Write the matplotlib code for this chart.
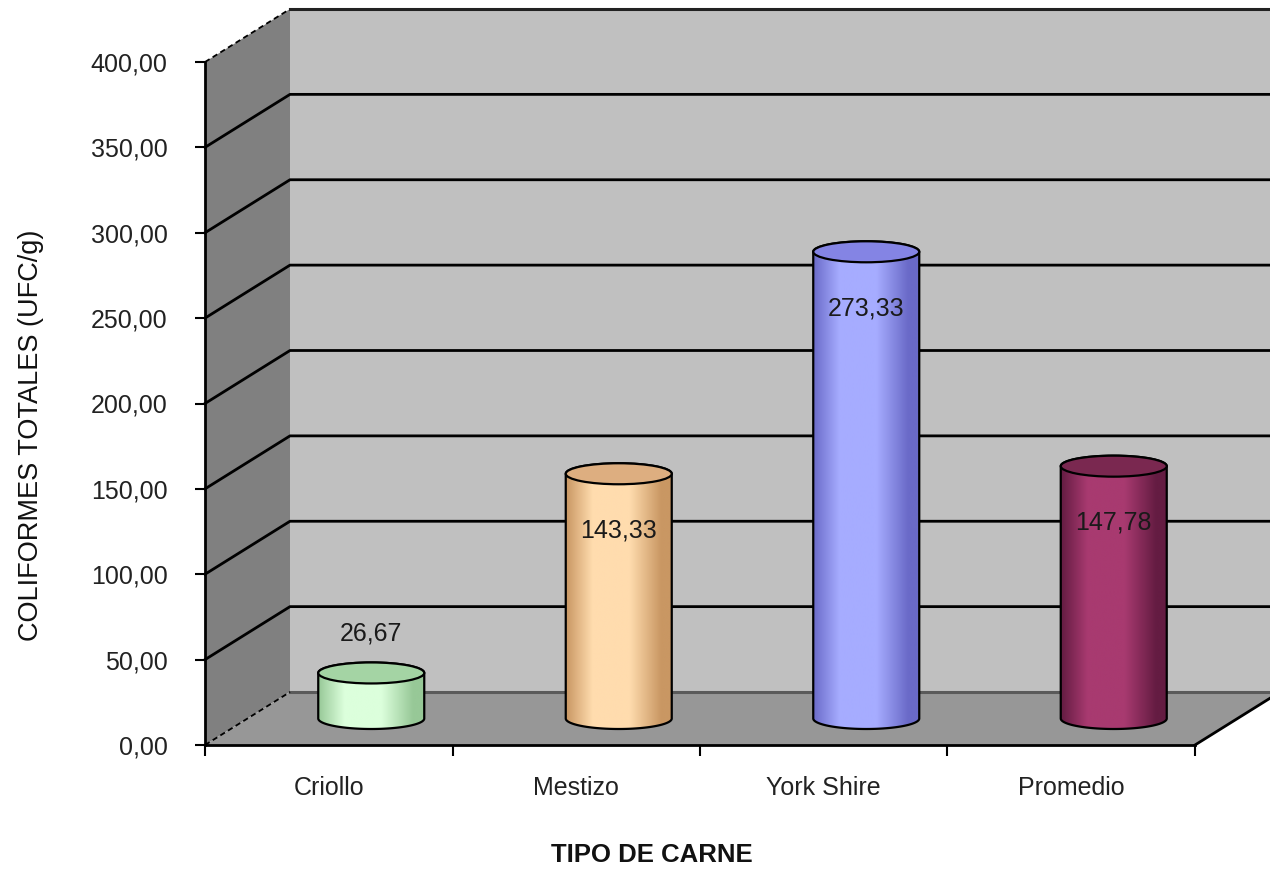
import numpy as np
import matplotlib
matplotlib.use("Agg")
import matplotlib.pyplot as plt
from matplotlib.colors import LinearSegmentedColormap
from matplotlib.patches import Polygon, Ellipse
from matplotlib.ticker import FuncFormatter

plt.rcParams["font.family"] = ["Liberation Sans", "DejaVu Sans"]

categories = ["Criollo", "Mestizo", "York Shire", "Promedio"]
coliformes = [26.67, 143.33, 273.33, 147.78]
y_ticks = [0, 50, 100, 150, 200, 250, 300, 350, 400]

# cylinder shading: edge colour, highlight colour, lid colour
body_dark = ["#97c897", "#c99763", "#6a6ac8", "#641c42"]
body_light = ["#dcffdc", "#ffdcae", "#a6acff", "#a83a70"]
top_colors = ["#a4d4a4", "#ddae80", "#8484e4", "#7a2850"]

W, H = 1270, 869
fig = plt.figure(figsize=(W / 100, H / 100), dpi=100)
ax = fig.add_axes([205 / W, 1 - 745 / H, 990 / W, 683 / H])
ax.patch.set_visible(False)

x0, x1 = -0.5, len(categories) - 0.5
y_top = y_ticks[-1]
px_x = 990 / (x1 - x0)
px_y = 683 / y_top
DX = 85 / px_x      # depth of the box, category units
DY = 53 / px_y      # depth of the box, value units
R = 53 / px_x       # cylinder radius
EH = 10.5 / px_y    # half height of the cylinder ellipses
x_end = x1 + DX + 0.3

# walls and floor
ax.add_patch(Polygon([(x0, 0), (x0, y_top), (x0 + DX, y_top + DY), (x0 + DX, DY)],
                     fc="#808080", ec="none", zorder=0, clip_on=False))
ax.add_patch(Polygon([(x0 + DX, DY), (x0 + DX, y_top + DY), (x_end, y_top + DY), (x_end, DY)],
                     fc="#c0c0c0", ec="none", zorder=0, clip_on=False))
ax.add_patch(Polygon([(x0, 0), (x1, 0), (x1 + DX, DY), (x0 + DX, DY)],
                     fc="#979797", ec="none", zorder=1, clip_on=False))

for v in y_ticks:
    if v == 0 or v == y_top:
        ax.plot([x0, x0 + DX], [v, v + DY], color="black", lw=1.3, ls=(0, (3, 2)),
                zorder=2, clip_on=False)
        back_col = "#5a5a5a" if v == 0 else "#222222"
        ax.plot([x0 + DX, x_end], [v + DY, v + DY], color=back_col, lw=2.2,
                zorder=1.5 if v == 0 else 2, clip_on=False)
    else:
        ax.plot([x0, x0 + DX, x_end], [v, v + DY, v + DY], color="black", lw=2,
                zorder=0.5, clip_on=False)
ax.plot([x1, x1 + DX], [0, DY], color="black", lw=2, zorder=2, clip_on=False)

# cylinders
grad = np.linspace(0, 1, 256)[None, :]
for i, v in enumerate(coliformes):
    cx = i + DX / 2
    yb = DY / 2
    yt = v + DY / 2
    t_low = np.linspace(np.pi, 2 * np.pi, 80)
    t_up = np.linspace(0, np.pi, 80)
    verts = list(zip(cx + R * np.cos(t_low), yb + EH * np.sin(t_low)))
    verts += list(zip(cx + R * np.cos(t_up), yt + EH * np.sin(t_up)))
    body = Polygon(verts, closed=True, fc="none", ec="black", lw=1.6, zorder=4)
    ax.add_patch(body)

    cmap = LinearSegmentedColormap.from_list(
        f"cyl{i}", [(0, body_dark[i]), (0.25, body_light[i]), (0.6, body_light[i]),
                    (0.9, body_dark[i]), (1, body_dark[i])])
    img = ax.imshow(grad, extent=[cx - R, cx + R, yb - EH, yt + EH], aspect="auto",
                    cmap=cmap, zorder=3, interpolation="bilinear")
    img.set_clip_path(body)

    ax.add_patch(Ellipse((cx, yt), 2 * R, 2 * EH, fc=top_colors[i], ec="black",
                         lw=1.6, zorder=5))

    offset = 23 if v < 50 else -33
    ax.text(cx, yt + offset, f"{v:.2f}".replace(".", ","), ha="center", va="center",
            fontsize=18, color="#1a1a1a", zorder=6)

ax.set_xlim(x0, x1)
ax.set_ylim(0, y_top)

# axes
for side in ["top", "right"]:
    ax.spines[side].set_visible(False)
for side in ["left", "bottom"]:
    ax.spines[side].set_linewidth(2)
    ax.spines[side].set_zorder(7)

ax.set_yticks(y_ticks)
ax.yaxis.set_major_formatter(FuncFormatter(lambda v, _: f"{v:.2f}".replace(".", ",")))
ax.tick_params(axis="y", direction="out", length=7, width=1.5, pad=20,
               labelsize=18, labelcolor="#222222")

ax.set_xticks(np.arange(x0, x1 + 0.5, 1))
ax.set_xticklabels([])
ax.set_xticks(range(len(categories)), minor=True)
ax.set_xticklabels(categories, minor=True)
ax.tick_params(axis="x", which="major", direction="out", length=8, width=1.5)
ax.tick_params(axis="x", which="minor", length=0, pad=22, labelsize=18,
               labelcolor="#222222")

fig.text(31 / W, 1 - 435 / H, "COLIFORMES TOTALES (UFC/g)", rotation=90,
         ha="center", va="center", fontsize=19.5, color="#111111")
fig.text(652 / W, 1 - 855 / H, "TIPO DE CARNE", ha="center", va="center",
         fontsize=18.5, fontweight="bold", color="#111111")

fig.savefig("out.png", dpi=100)
